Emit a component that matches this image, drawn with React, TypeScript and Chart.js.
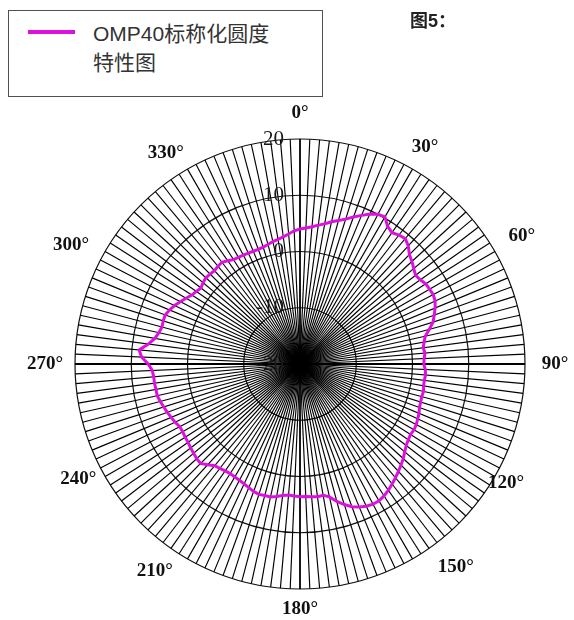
import React, { useEffect, useRef } from 'react';
import { Chart, registerables } from 'chart.js';

Chart.register(...registerables);

// Angle categories, one every 2.5 degrees (0 .. 357.5)
const angleCategories: string[] = [
  '0', '2.5', '5', '7.5', '10', '12.5', '15', '17.5', '20', '22.5', '25', '27.5',
  '30', '32.5', '35', '37.5', '40', '42.5', '45', '47.5', '50', '52.5', '55', '57.5',
  '60', '62.5', '65', '67.5', '70', '72.5', '75', '77.5', '80', '82.5', '85', '87.5',
  '90', '92.5', '95', '97.5', '100', '102.5', '105', '107.5', '110', '112.5', '115', '117.5',
  '120', '122.5', '125', '127.5', '130', '132.5', '135', '137.5', '140', '142.5', '145', '147.5',
  '150', '152.5', '155', '157.5', '160', '162.5', '165', '167.5', '170', '172.5', '175', '177.5',
  '180', '182.5', '185', '187.5', '190', '192.5', '195', '197.5', '200', '202.5', '205', '207.5',
  '210', '212.5', '215', '217.5', '220', '222.5', '225', '227.5', '230', '232.5', '235', '237.5',
  '240', '242.5', '245', '247.5', '250', '252.5', '255', '257.5', '260', '262.5', '265', '267.5',
  '270', '272.5', '275', '277.5', '280', '282.5', '285', '287.5', '290', '292.5', '295', '297.5',
  '300', '302.5', '305', '307.5', '310', '312.5', '315', '317.5', '320', '322.5', '325', '327.5',
  '330', '332.5', '335', '337.5', '340', '342.5', '345', '347.5', '350', '352.5', '355', '357.5',
];

// OMP40 normalised roundness (one value per category)
const roundness: number[] = [
  4.0, 4.2, 4.5, 4.9, 5.3, 5.9, 6.4, 7.0, 7.8, 8.6, 9.4, 10.0,
  10.2, 9.0, 8.5, 8.9, 9.1, 8.5, 7.5, 7.0, 6.4, 5.9, 6.1, 6.5,
  6.6, 6.7, 6.5, 6.0, 5.4, 4.8, 3.8, 2.8, 2.4, 2.1, 2.3, 2.1,
  2.0, 2.3, 2.4, 2.3, 2.3, 2.5, 2.4, 2.5, 2.6, 2.9, 3.1, 3.3,
  3.4, 3.3, 3.5, 3.8, 4.3, 4.9, 5.4, 5.9, 6.4, 6.9, 7.4, 7.8,
  8.1, 8.1, 7.9, 7.5, 7.0, 6.2, 5.3, 4.2, 3.7, 3.8, 3.7, 3.6,
  3.6, 3.5, 3.4, 3.6, 3.9, 4.2, 4.2, 4.3, 4.1, 3.8, 3.5, 3.3,
  3.2, 3.1, 3.2, 3.4, 3.6, 4.3, 5.0, 4.9, 4.7, 4.5, 4.3, 4.2,
  4.1, 4.1, 4.5, 4.8, 5.1, 5.4, 5.7, 6.0, 6.0, 6.1, 6.1, 6.3,
  7.0, 8.2, 8.7, 7.2, 6.2, 5.7, 5.4, 5.5, 5.5, 5.1, 4.6, 4.0,
  3.4, 2.8, 2.5, 2.2, 2.5, 2.7, 2.6, 2.5, 2.7, 2.8, 2.4, 2.0,
  1.9, 1.8, 1.75, 1.7, 1.7, 1.8, 2.0, 2.3, 2.5, 2.8, 3.2, 3.7,
];

const radialTicks: number[] = [-20, -10, 0, 10, 20];
const degreeLabels: string[] = ['0°', '30°', '60°', '90°', '120°', '150°', '180°', '210°', '240°', '270°', '300°', '330°'];
// spoke index each label sits beside, as placed in the original figure
const degreeLabelIndex: number[] = [0, 12, 24, 36, 48, 57, 72, 86, 97, 108, 119, 131];
// label distance from the outer ring, px
const degreeLabelGap: number[] = [26, 25, 31, 30, 13, 31, 20, 28, 25, 30, 33, 25];

const seriesName = 'OMP40标称化圆度';
const seriesNameLine2 = '特性图';
const figureTitle = '图5：';
const curveColor = '#dd11dd';

const polarLabelsPlugin = {
  id: 'polarLabels',
  afterDraw(chart: any) {
    const scale = chart.scales.r;
    const ctx = chart.ctx as CanvasRenderingContext2D;
    ctx.save();
    ctx.fillStyle = '#111';
    ctx.font = 'bold 19px "Liberation Serif", "DejaVu Serif", serif';
    ctx.textAlign = 'center';
    ctx.textBaseline = 'middle';
    degreeLabels.forEach((txt, k) => {
      const p = scale.getPointPosition(degreeLabelIndex[k], scale.drawingArea + degreeLabelGap[k]);
      ctx.fillText(txt, p.x, p.y);
    });
    ctx.font = '21px "Liberation Serif", "DejaVu Serif", serif';
    ctx.fillStyle = '#1a1a1a';
    ctx.textAlign = 'right';
    radialTicks.forEach((v) => {
      const d = scale.getDistanceFromCenterForValue(v);
      ctx.fillText(String(v), scale.xCenter - 16, scale.yCenter - d);
    });
    ctx.restore();
  },
};

export default function App() {
  const canvasRef = useRef<HTMLCanvasElement | null>(null);

  useEffect(() => {
    if (!canvasRef.current) return;
    const chart = new Chart(canvasRef.current, {
      type: 'radar',
      data: {
        labels: angleCategories,
        datasets: [
          {
            label: seriesName + seriesNameLine2,
            data: roundness,
            borderColor: curveColor,
            borderWidth: 3,
            pointRadius: 0,
            pointHoverRadius: 0,
            fill: false,
            tension: 0,
          },
        ],
      },
      options: {
        responsive: false,
        animation: false,
        devicePixelRatio: 1,
        layout: { padding: { left: 75, right: 49, top: 139, bottom: 31 } },
        plugins: {
          legend: { display: false },
          tooltip: { enabled: false },
        },
        scales: {
          r: {
            min: -20,
            max: 20,
            ticks: { stepSize: 10, display: false, showLabelBackdrop: false },
            grid: { circular: true, color: '#111', lineWidth: 1.2 },
            angleLines: {
              display: true,
              color: '#000',
              lineWidth: (c: any) => (c && c.index % 36 === 0 ? 1.8 : 1.15),
            },
            pointLabels: { display: false },
          },
        },
      } as any,
      plugins: [polarLabelsPlugin],
    });
    return () => chart.destroy();
  }, []);

  return (
    <div style={{ position: 'absolute', left: 0, top: 0, width: 574, height: 620, background: '#fff', overflow: 'hidden' }}>
      <canvas ref={canvasRef} width={574} height={620} style={{ position: 'absolute', left: 0, top: 0, width: 574, height: 620 }} />
      <div
        style={{
          position: 'absolute', left: 8, top: 10, width: 315, height: 87,
          boxSizing: 'border-box', border: '1.5px solid #505050', background: '#fff',
        }}
      />
      <div style={{ position: 'absolute', left: 28, top: 30, width: 47, height: 4, background: curveColor }} />
      <div
        style={{
          position: 'absolute', left: 93, top: 19, fontSize: 21, lineHeight: '29px', color: '#333',
          fontFamily: '"Liberation Sans", Arial, "Noto Sans CJK SC", sans-serif', whiteSpace: 'nowrap',
        }}
      >
        {seriesName}
        <br />
        {seriesNameLine2}
      </div>
      <div
        style={{
          position: 'absolute', left: 410, top: 10, fontSize: 18, lineHeight: '22px', fontWeight: 'bold', color: '#222',
          fontFamily: '"Liberation Sans", Arial, "Noto Sans CJK SC", sans-serif', whiteSpace: 'nowrap',
        }}
      >
        {figureTitle}
      </div>
    </div>
  );
}
